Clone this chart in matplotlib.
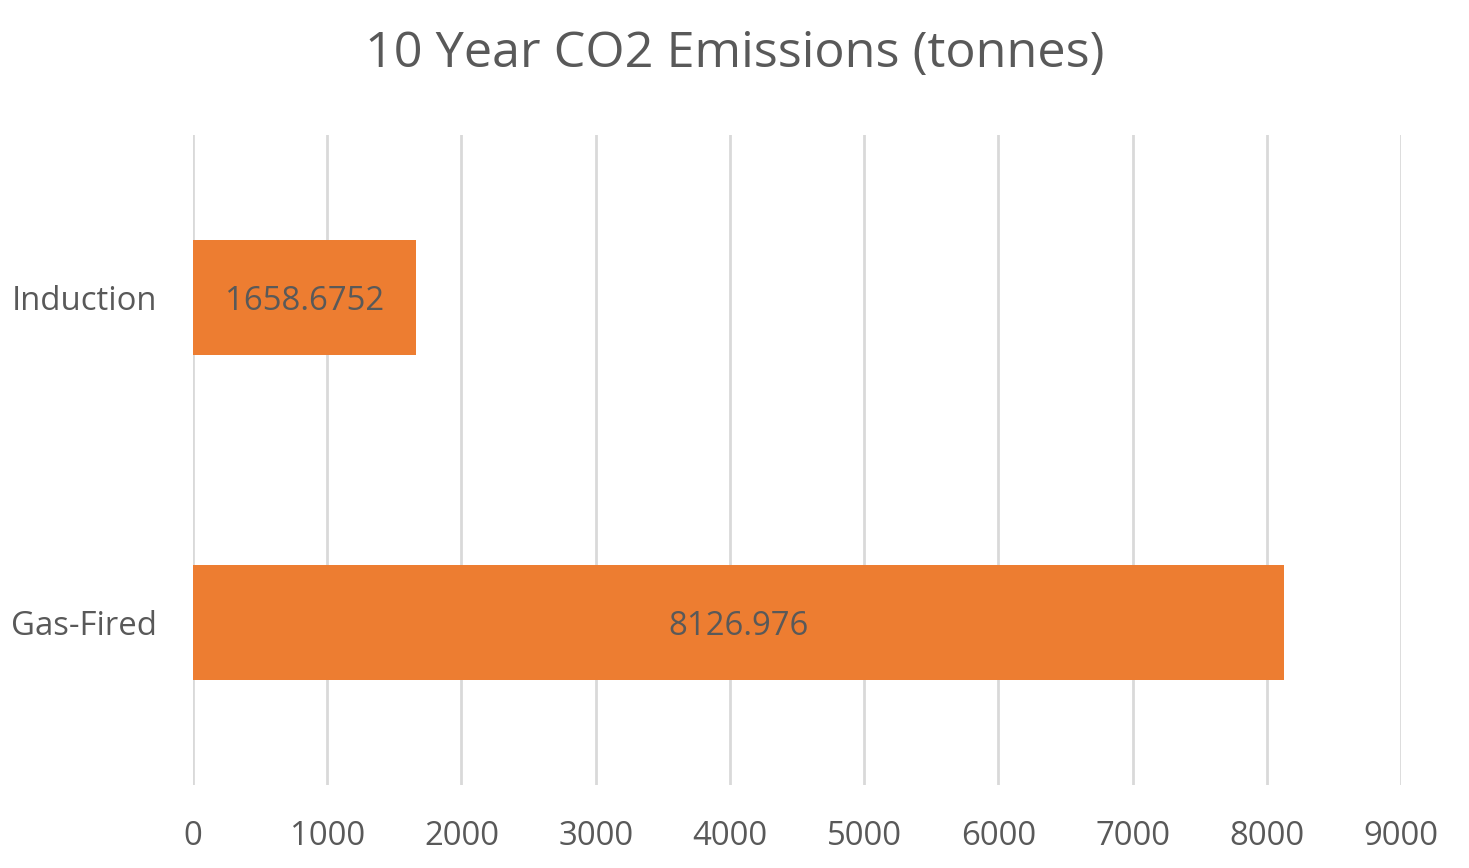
import matplotlib
matplotlib.use("Agg")
import matplotlib.pyplot as plt

categories = ["Gas-Fired", "Induction"]
values = [8126.976, 1658.6752]
value_labels = ["8126.976", "1658.6752"]
xticks = [0, 1000, 2000, 3000, 4000, 5000, 6000, 7000, 8000, 9000]
title = "10 Year CO2 Emissions (tonnes)"

TEXT = "#595959"
plt.rcParams["font.family"] = ["Open Sans", "DejaVu Sans"]

W, H = 1469, 868
fig = plt.figure(figsize=(W / 100, H / 100), dpi=100)
ax = fig.add_axes([193 / W, (H - 785) / H, (1401 - 193) / W, (785 - 135) / H])

pos = list(range(len(categories)))
bars = ax.barh(pos, values, height=0.354, color="#ED7D31", zorder=3)
for b, lab in zip(bars, value_labels):
    ax.annotate(lab, (b.get_width() / 2, b.get_y() + b.get_height() / 2),
                xytext=(0, -3), textcoords="offset points",
                ha="center", va="center", color=TEXT, fontsize=23.7, zorder=4)

ax.set_xlim(0, 9000)
ax.set_ylim(-0.5, 1.5)
ax.set_xticks(xticks)
ax.set_xticklabels([str(t) for t in xticks])
ax.set_yticks(pos)
ax.set_yticklabels(categories)
ax.tick_params(axis="both", length=0, labelsize=23.7, labelcolor=TEXT)
ax.tick_params(axis="x", pad=25)
ax.tick_params(axis="y", pad=26)
ax.grid(axis="x", color="#D9D9D9", linewidth=2, zorder=0)
ax.set_axisbelow(True)
for s in ax.spines.values():
    s.set_visible(False)

fig.text(735 / W, 1 - 54 / H, title, ha="center", va="center",
         color=TEXT, fontsize=36.3)

fig.savefig("out.png", dpi=100, facecolor="white")
